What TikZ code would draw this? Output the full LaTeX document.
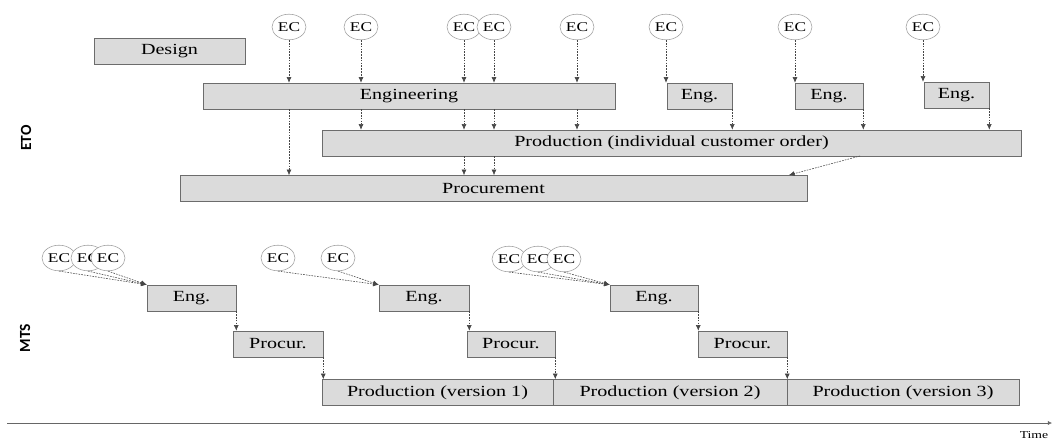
\documentclass[tikz,border=0pt]{standalone}
\usepackage{fontspec}
\setmainfont{Liberation Serif}[FakeStretch=1.3]
\newfontfamily\sidefont{Carlito}
\usetikzlibrary{shapes.geometric,arrows.meta}

\tikzset{
  phase/.style={rectangle, draw=gray!85!black, fill=gray!28, minimum height=0.65cm, inner sep=1pt, font=\fontsize{11}{13}\selectfont},
  change/.style={ellipse, draw=gray!75, fill=white, minimum width=0.85cm, minimum height=0.64cm, inner sep=0pt, font=\fontsize{9.5}{11}\selectfont},
  flow/.style={-{Latex[length=4pt,width=3.5pt]}, gray!55!black, dash pattern=on 1.2pt off 0.8pt, thin},
  side/.style={rotate=90, font=\sidefont\bfseries\fontsize{11}{13}\selectfont},
}

\begin{document}
\begin{tikzpicture}[x=0.025cm, y=-0.025cm]
    \useasboundingbox (0,0) rectangle (1054,441);

    % ETO: phases
    \node[side] (eto) at (26,138) {ETO};
    \node[phase, minimum width=3.78cm] (design) at (169.5,51) {Design};
    \node[phase, minimum width=10.3cm] (engineering) at (409,96) {Engineering};
    \node[phase, minimum width=1.625cm] (enga) at (699.5,96) {Eng.};
    \node[phase, minimum width=1.7cm] (engb) at (829,96) {Eng.};
    \node[phase, minimum width=1.625cm] (engc) at (956.5,95) {Eng.};
    \node[phase, minimum width=17.475cm] (production) at (671.5,143) {Production (individual customer order)};
    \node[phase, minimum width=15.675cm] (procurement) at (493.5,188.5) {Procurement};

    % ETO: engineering changes
    \node[change] (ec1) at (289,27) {EC};
    \node[change] (ec2) at (361,27) {EC};
    \node[change] (ec3) at (464,27) {EC};
    \node[change] (ec4) at (494,27) {EC};
    \node[change] (ec5) at (577,27) {EC};
    \node[change] (ec6) at (666,27) {EC};
    \node[change] (ec7) at (795,27) {EC};
    \node[change] (ec8) at (923,27) {EC};

    % ETO: arrows
    \draw[flow] (ec1) -- (ec1 |- engineering.north);
    \draw[flow] (ec1 |- engineering.south) -- (ec1 |- procurement.north);
    \draw[flow] (ec2) -- (ec2 |- engineering.north);
    \draw[flow] (ec2 |- engineering.south) -- (ec2 |- production.north);
    \draw[flow] (ec3) -- (ec3 |- engineering.north);
    \draw[flow] (ec3 |- engineering.south) -- (ec3 |- production.north);
    \draw[flow] (ec3 |- production.south) -- (ec3 |- procurement.north);
    \draw[flow] (ec4) -- (ec4 |- engineering.north);
    \draw[flow] (ec4 |- engineering.south) -- (ec4 |- production.north);
    \draw[flow] (ec4 |- production.south) -- (ec4 |- procurement.north);
    \draw[flow] (ec5) -- (ec5 |- engineering.north);
    \draw[flow] (ec5 |- engineering.south) -- (ec5 |- production.north);
    \draw[flow] (ec6) -- (ec6 |- enga.north);
    \draw[flow] (enga.south east) -- (enga.south east |- production.north);
    \draw[flow] (ec7) -- (ec7 |- engb.north);
    \draw[flow] (engb.south east) -- (engb.south east |- production.north);
    \draw[flow] (ec8) -- (ec8 |- engc.north);
    \draw[flow] (engc.south east) -- (engc.south east |- production.north);
    \coordinate (slantstart) at (860,156);
    \coordinate (slantend) at (789,175);
    \draw[flow] (slantstart) -- (slantend);

    % MTS: phases
    \node[side] (mts) at (25,338) {MTS};
    \node[phase, minimum width=2.225cm] (eng1) at (191.5,298) {Eng.};
    \node[phase, minimum width=2.25cm] (proc1) at (278,344) {Procur.};
    \node[phase, minimum width=5.775cm] (prod1) at (437.5,392.5) {Production (version 1)};
    \node[phase, minimum width=2.25cm] (eng2) at (424,298) {Eng.};
    \node[phase, minimum width=2.2cm] (proc2) at (511,344) {Procur.};
    \node[phase, minimum width=5.85cm] (prod2) at (670,392.5) {Production (version 2)};
    \node[phase, minimum width=2.2cm] (eng3) at (654,298) {Eng.};
    \node[phase, minimum width=2.225cm] (proc3) at (742.5,344) {Procur.};
    \node[phase, minimum width=5.8cm] (prod3) at (903,392.5) {Production (version 3)};

    % MTS: engineering changes
    \node[change] (c1a) at (59,258) {EC};
    \node[change] (c1b) at (88,258) {EC};
    \node[change] (c1c) at (108,258) {EC};
    \node[change] (c2a) at (278,258) {EC};
    \node[change] (c2b) at (338,258) {EC};
    \node[change] (c3a) at (509,259) {EC};
    \node[change] (c3b) at (538,259) {EC};
    \node[change] (c3c) at (564,259) {EC};

    % MTS: arrows
    \draw[flow] (c1a.south) -- (eng1.north west);
    \draw[flow] (c1b.south) -- (eng1.north west);
    \draw[flow] (c1c.south) -- (eng1.north west);
    \draw[flow] (c2a.south) -- (eng2.north west);
    \draw[flow] (c2b.south) -- (eng2.north west);
    \draw[flow] (c3a.south) -- (eng3.north west);
    \draw[flow] (c3b.south) -- (eng3.north west);
    \draw[flow] (c3c.south) -- (eng3.north west);
    \draw[flow] (eng1.south east) -- (eng1.south east |- proc1.north);
    \draw[flow] (proc1.south east) -- (proc1.south east |- prod1.north);
    \draw[flow] (eng2.south east) -- (eng2.south east |- proc2.north);
    \draw[flow] (proc2.south east) -- (proc2.south east |- prod2.north);
    \draw[flow] (eng3.south east) -- (eng3.south east |- proc3.north);
    \draw[flow] (proc3.south east) -- (proc3.south east |- prod3.north);

    % time axis
    \coordinate (tstart) at (7,423);
    \coordinate (tend) at (1052,423);
    \draw[gray!80!black, -{Latex[length=3pt,width=3pt]}] (tstart) -- (tend);
    \node[font=\fontsize{7.5}{9}\selectfont, inner sep=0pt] (timelabel) at (1034,435) {Time};
\end{tikzpicture}
\end{document}
